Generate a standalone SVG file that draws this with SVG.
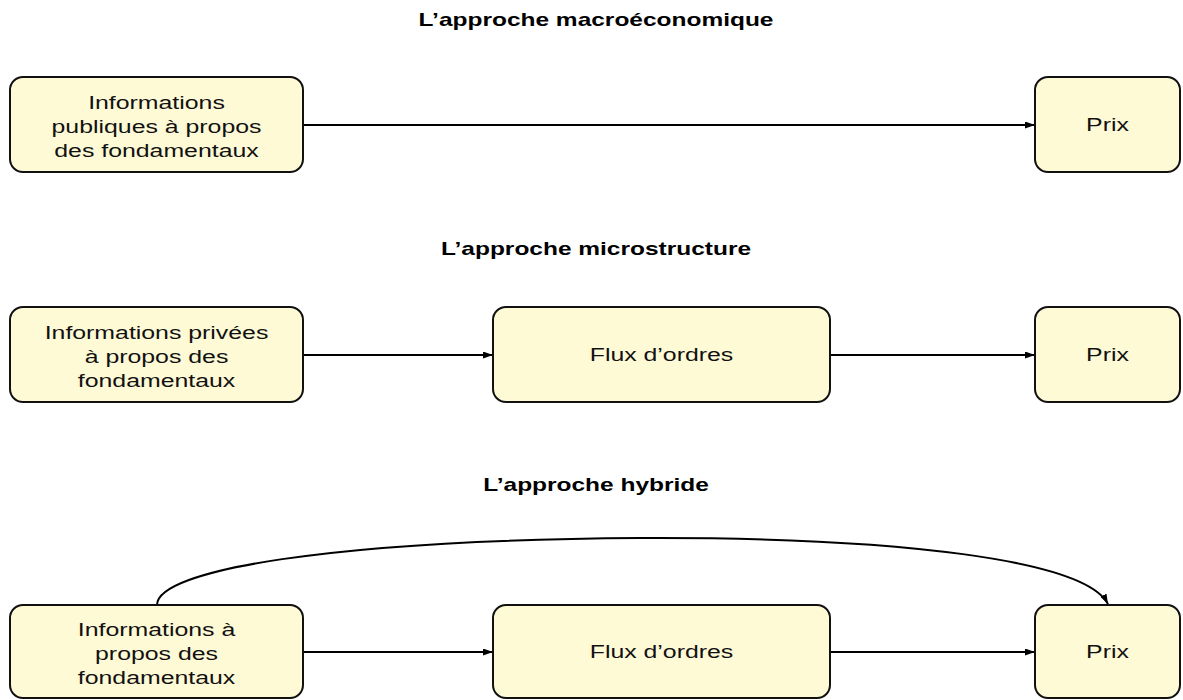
<svg xmlns="http://www.w3.org/2000/svg" width="1183" height="700" viewBox="0 0 1183 700">
<style>
.box{fill:#FFFAD6;stroke:#111;stroke-width:2}
.t{font-family:"Liberation Sans",Arial,sans-serif;font-size:17.5px;fill:#111;text-anchor:middle}
.h{font-family:"Liberation Sans",Arial,sans-serif;font-size:17.5px;font-weight:bold;fill:#000;text-anchor:middle}
.c{fill:none;stroke:#000;stroke-width:2}
</style>
<defs>
<marker id="ah" markerUnits="userSpaceOnUse" markerWidth="12" markerHeight="8" refX="10" refY="3.5" orient="auto">
<path d="M0,0 L10,3.5 L0,7 z" fill="#000"/>
</marker>
</defs>
<rect width="1183" height="700" fill="#fff"/>
<g id="titles">
<text class="h" transform="translate(596,26) scale(1.4,1)">L’approche macroéconomique</text>
<text class="h" transform="translate(596,255) scale(1.4,1)">L’approche microstructure</text>
<text class="h" transform="translate(596,491) scale(1.4,1)">L’approche hybride</text>
</g>
<g id="connectors">
<path class="c" d="M303,125 H1035" marker-end="url(#ah)"/>
<path class="c" d="M303,355 H493" marker-end="url(#ah)"/>
<path class="c" d="M830,355 H1035" marker-end="url(#ah)"/>
<path class="c" d="M303,652 H493" marker-end="url(#ah)"/>
<path class="c" d="M830,652 H1035" marker-end="url(#ah)"/>
<path class="c" d="M157,605 C157,570 330,540 640,538 C900,537 1085,560 1108,604" marker-end="url(#ah)"/>
</g>
<g id="n1">
<rect class="box" x="10" y="77" width="293" height="95" rx="13"/>
<text class="t" transform="translate(156.5,109) scale(1.42,1)">Informations</text>
<text class="t" transform="translate(156.5,133) scale(1.42,1)">publiques à propos</text>
<text class="t" transform="translate(156.5,157) scale(1.42,1)">des fondamentaux</text>
</g>
<g id="n2">
<rect class="box" x="1035" y="77" width="145" height="95" rx="13"/>
<text class="t" transform="translate(1107.5,131) scale(1.42,1)">Prix</text>
</g>
<g id="n3">
<rect class="box" x="10" y="307" width="293" height="95" rx="13"/>
<text class="t" transform="translate(156.5,339) scale(1.42,1)">Informations privées</text>
<text class="t" transform="translate(156.5,363) scale(1.42,1)">à propos des</text>
<text class="t" transform="translate(156.5,387) scale(1.42,1)">fondamentaux</text>
</g>
<g id="n4">
<rect class="box" x="493" y="307" width="337" height="95" rx="13"/>
<text class="t" transform="translate(661.5,361) scale(1.42,1)">Flux d’ordres</text>
</g>
<g id="n5">
<rect class="box" x="1035" y="307" width="145" height="95" rx="13"/>
<text class="t" transform="translate(1107.5,361) scale(1.42,1)">Prix</text>
</g>
<g id="n6">
<rect class="box" x="10" y="605" width="293" height="93" rx="13"/>
<text class="t" transform="translate(156.5,636) scale(1.42,1)">Informations à</text>
<text class="t" transform="translate(156.5,660) scale(1.42,1)">propos des</text>
<text class="t" transform="translate(156.5,684) scale(1.42,1)">fondamentaux</text>
</g>
<g id="n7">
<rect class="box" x="493" y="605" width="337" height="93" rx="13"/>
<text class="t" transform="translate(661.5,658) scale(1.42,1)">Flux d’ordres</text>
</g>
<g id="n8">
<rect class="box" x="1035" y="605" width="145" height="93" rx="13"/>
<text class="t" transform="translate(1107.5,658) scale(1.42,1)">Prix</text>
</g>
</svg>
